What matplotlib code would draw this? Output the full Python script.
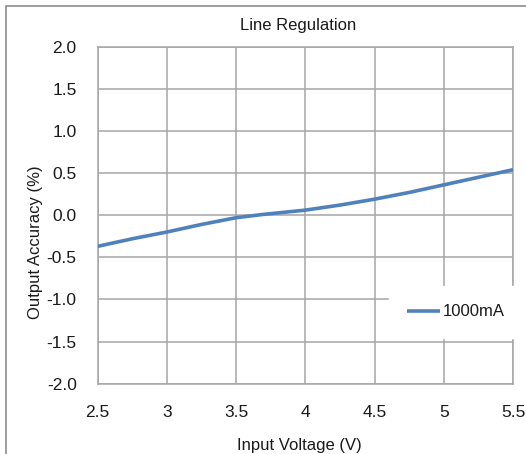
import matplotlib
matplotlib.use("Agg")
import matplotlib.pyplot as plt
from matplotlib.patches import Rectangle

plt.rcParams['font.family'] = ['Liberation Sans Narrow', 'Liberation Sans', 'DejaVu Sans']

# data
vin = [2.5, 2.75, 3.0, 3.25, 3.5, 3.7, 4.0, 4.25, 4.5, 4.75, 5.0, 5.25, 5.5]
acc = [-0.37, -0.28, -0.20, -0.11, -0.03, 0.01, 0.06, 0.12, 0.19, 0.27, 0.36, 0.45, 0.54]
series_name = "1000mA"
xticks = [2.5, 3, 3.5, 4, 4.5, 5, 5.5]
xticklabels = ["2.5", "3", "3.5", "4", "4.5", "5", "5.5"]
yticks = [-2.0, -1.5, -1.0, -0.5, 0.0, 0.5, 1.0, 1.5, 2.0]

W, H = 526, 454
fig = plt.figure(figsize=(W / 100, H / 100), dpi=100)
ax = fig.add_axes([97.5 / W, 1 - 383.7 / H, (513 - 97.5) / W, (383.7 - 46.7) / H])

grid_c = '#a6a6a6'
txt_c = '#1a1a1a'
ax.plot(vin, acc, color='#4f81bd', lw=2.6, solid_capstyle='butt', label=series_name, zorder=3)

ax.set_xlim(2.5, 5.5)
ax.set_ylim(-2.0, 2.0)
ax.set_xticks(xticks)
ax.set_xticklabels(xticklabels)
ax.set_yticks(yticks)
ax.set_yticklabels(["%.1f" % v for v in yticks])
ax.grid(True, color=grid_c, lw=1.1)
ax.set_axisbelow(True)
for s in ax.spines.values():
    s.set_color(grid_c)
    s.set_linewidth(1.1)
ax.tick_params(length=0, labelsize=12.5, colors=txt_c)
ax.tick_params(axis='x', pad=15)
ax.tick_params(axis='y', pad=15)

ax.set_title("Line Regulation", fontsize=12, color=txt_c, pad=12, x=0.483)
ax.set_xlabel("Input Voltage (V)", fontsize=12, color=txt_c, labelpad=13)
ax.xaxis.label.set_x(0.487)
ax.set_ylabel("Output Accuracy (%)", fontsize=12, color=txt_c)
ax.yaxis.set_label_coords(-0.13, 0.419)

leg = ax.legend(loc='center', bbox_to_anchor=((456 - 97.5) / 415.5, (383.7 - 312) / 337),
                frameon=True, fancybox=False, fontsize=12, handlelength=2.0,
                handletextpad=0.15, borderpad=1.1, borderaxespad=0)
leg.get_frame().set_facecolor('white')
leg.get_frame().set_edgecolor('white')
leg.get_frame().set_alpha(1)
for t in leg.get_texts():
    t.set_color(txt_c)

# outer chart frame
fig.patches.append(Rectangle((6 / W, -0.1), 1.2, 1 - 6 / H + 0.1, transform=fig.transFigure,
                             fill=False, edgecolor='#8c8c8c', lw=1.2))

fig.savefig("out.png", dpi=100)
